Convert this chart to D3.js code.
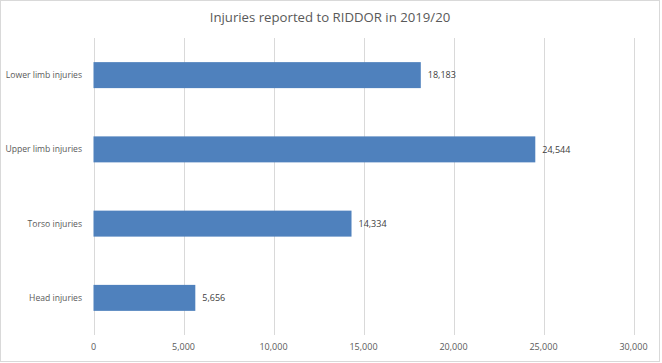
<!DOCTYPE html>
<html>
<head>
<meta charset="utf-8">
<script src="https://cdn.jsdelivr.net/npm/d3@7"></script>
<style>
  html, body { margin: 0; padding: 0; background: #fff; }
  svg { display: block; }
</style>
</head>
<body>
<svg id="chart" width="662" height="363"></svg>
<script>
const categories = ["Lower limb injuries", "Upper limb injuries", "Torso injuries", "Head injuries"];
const values = [18183, 24544, 14334, 5656];
const tickValues = [0, 5000, 10000, 15000, 20000, 25000, 30000];
const title = "Injuries reported to RIDDOR in 2019/20";

const svg = d3.select("#chart");
const font = "'Open Sans', sans-serif";
const textColor = "#595959";

svg.append("rect")
  .attr("x", 0.5).attr("y", 0.5)
  .attr("width", 659).attr("height", 361)
  .attr("fill", "#fff").attr("stroke", "#d9d9d9");

const x = d3.scaleLinear().domain([0, 30000]).range([93.5, 633.5]);
const y = d3.scaleBand().domain(categories).range([38, 335])
  .paddingInner(0.65).paddingOuter(0.325);

// gridlines
svg.append("g").selectAll("line").data(tickValues).join("line")
  .attr("x1", d => Math.round(x(d)) + 0.5).attr("x2", d => Math.round(x(d)) + 0.5)
  .attr("y1", 38).attr("y2", 335)
  .attr("stroke", "#d9d9d9").attr("stroke-width", 1);

// bars
svg.append("g").selectAll("rect").data(values).join("rect")
  .attr("x", x(0))
  .attr("y", (d, i) => y(categories[i]))
  .attr("width", d => x(d) - x(0))
  .attr("height", y.bandwidth())
  .attr("fill", "#4f81bd");

// value labels
svg.append("g").selectAll("text").data(values).join("text")
  .attr("x", d => x(d) + 7)
  .attr("y", (d, i) => y(categories[i]) + y.bandwidth() / 2)
  .attr("dy", "0.35em")
  .attr("font-family", font).attr("font-size", 9)
  .attr("fill", "#404040")
  .text(d => d3.format(",")(d));

// category labels
svg.append("g").selectAll("text").data(categories).join("text")
  .attr("x", 82)
  .attr("y", d => y(d) + y.bandwidth() / 2)
  .attr("dy", "0.35em")
  .attr("text-anchor", "end")
  .attr("font-family", font).attr("font-size", 8.6)
  .attr("fill", textColor)
  .text(d => d);

// x tick labels
svg.append("g").selectAll("text").data(tickValues).join("text")
  .attr("x", d => x(d))
  .attr("y", 347)
  .attr("dy", "0.35em")
  .attr("text-anchor", "middle")
  .attr("font-family", font).attr("font-size", 9)
  .attr("fill", textColor)
  .text(d => d3.format(",")(d));

// title
svg.append("text")
  .attr("x", 330).attr("y", 22)
  .attr("text-anchor", "middle")
  .attr("font-family", font).attr("font-size", 13.2)
  .attr("fill", textColor)
  .text(title);
</script>
</body>
</html>
